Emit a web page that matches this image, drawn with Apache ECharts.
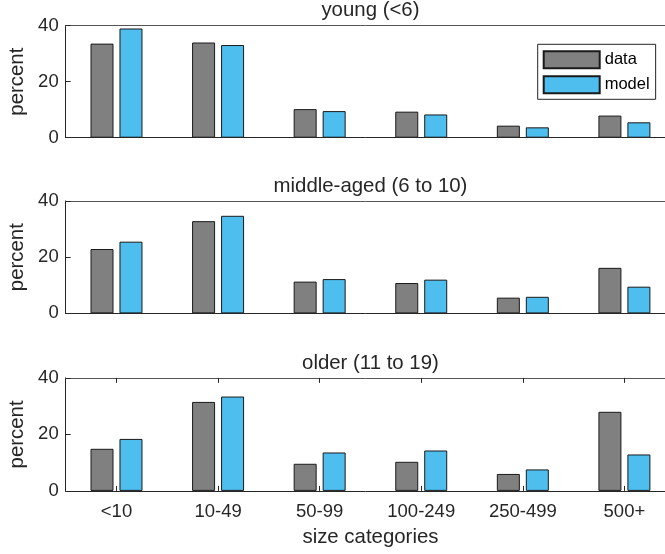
<!DOCTYPE html>
<html>
<head>
<meta charset="utf-8">
<script src="https://cdn.jsdelivr.net/npm/echarts@6/dist/echarts.min.js"></script>
<style>html,body{margin:0;padding:0;background:#fff;overflow:hidden;}#c{width:665px;height:554px;}</style>
</head>
<body>
<div id="c"></div>
<script>
const categories = ['<10', '10-49', '50-99', '100-249', '250-499', '500+'];
const panelTitles = ['young (<6)', 'middle-aged (6 to 10)', 'older (11 to 19)'];
const seriesNames = ['data', 'model'];
const youngData = [33.6, 34.0, 10.2, 9.3, 4.3, 7.9];
const youngModel = [39.0, 33.1, 9.5, 8.3, 3.7, 5.5];
const middleData = [22.9, 32.8, 11.3, 10.8, 5.6, 16.2];
const middleModel = [25.5, 34.7, 12.2, 12.0, 5.9, 9.5];
const olderData = [14.9, 31.5, 9.6, 10.3, 6.0, 28.0];
const olderModel = [18.4, 33.4, 13.6, 14.3, 7.6, 12.9];
const yMin = 0, yMax = 40, yStep = 20;
const yLabel = 'percent';
const xLabel = 'size categories';

const FONT = "'Liberation Sans', Arial, Helvetica, sans-serif";
const TXT = '#262626';
const AX = '#262626';
const panels = [[youngData, youngModel], [middleData, middleModel], [olderData, olderModel]];
const tops = [25.7, 200.9, 377.9];
const heights = [112, 112.5, 113];
const gridLeft = 65.7, gridWidth = 609.5;
const centerX = gridLeft + gridWidth / 2;

const grids = [], xAxes = [], yAxes = [], series = [], titles = [];
panels.forEach((p, i) => {
  grids.push({left: gridLeft, width: gridWidth, top: tops[i], height: heights[i],
    outerBoundsMode: 'none', show: false, containLabel: false});
  const last = i === panels.length - 1;
  const xIdx = xAxes.length;
  xAxes.push({type: 'category', gridIndex: i, data: categories, boundaryGap: true,
    axisLine: {show: true, onZero: false, lineStyle: {color: AX, width: 1}},
    axisTick: {show: last, inside: true, length: 5, alignWithLabel: true, lineStyle: {color: AX}},
    axisLabel: {show: last, color: TXT, fontSize: 18.5, fontFamily: FONT, margin: 12},
    name: last ? xLabel : '', nameLocation: 'middle', nameGap: 36,
    nameTextStyle: {color: TXT, fontSize: 20.4, fontFamily: FONT},
    splitLine: {show: false}, z: 5});
  xAxes.push({type: 'category', gridIndex: i, data: categories, position: 'top', boundaryGap: true,
    axisLine: {show: true, onZero: false, lineStyle: {color: '#555555', width: 1}},
    axisTick: {show: last, inside: true, length: 5, alignWithLabel: true, lineStyle: {color: AX}},
    axisLabel: {show: false}, splitLine: {show: false}, z: 5});
  yAxes.push({type: 'value', gridIndex: i, min: yMin, max: yMax, interval: yStep,
    axisLine: {show: true, onZero: false, lineStyle: {color: AX, width: 1}},
    axisTick: {show: true, inside: true, length: 5, lineStyle: {color: AX}},
    axisLabel: {color: TXT, fontSize: 18.5, fontFamily: FONT, margin: 7},
    splitLine: {show: false},
    name: yLabel, nameLocation: 'middle', nameGap: 33,
    nameTextStyle: {color: TXT, fontSize: 20.4, fontFamily: FONT}, z: 5});
  series.push({type: 'bar', name: seriesNames[0], xAxisIndex: xIdx, yAxisIndex: i, data: p[0],
    barWidth: 23, barGap: '26%',
    itemStyle: {color: '#808080', borderColor: '#1a1a1a', borderWidth: 1}, z: 2, animation: false});
  series.push({type: 'bar', name: seriesNames[1], xAxisIndex: xIdx, yAxisIndex: i, data: p[1],
    barWidth: 23, barGap: '26%',
    itemStyle: {color: '#4DBEEE', borderColor: '#1a1a1a', borderWidth: 1}, z: 2, animation: false});
  titles.push({text: panelTitles[i], left: centerX, top: tops[i] - 25, textAlign: 'center', padding: 0,
    textStyle: {color: TXT, fontSize: 20.4, fontWeight: 'normal', fontFamily: FONT}});
});

const chart = echarts.init(document.getElementById('c'), null, {renderer: 'canvas'});
chart.setOption({
  animation: false,
  backgroundColor: '#fff',
  title: titles,
  grid: grids,
  xAxis: xAxes,
  yAxis: yAxes,
  legend: {data: seriesNames, orient: 'vertical', left: 537.7, top: 44.3,
    padding: [6, 6, 5, 5], itemWidth: 56, itemHeight: 17, itemGap: 6,
    borderColor: '#262626', borderWidth: 1, backgroundColor: '#fff', borderRadius: 0,
    icon: 'rect', selectedMode: false,
    textStyle: {color: '#000', fontSize: 16.5, fontFamily: FONT}},
  series: series
});
</script>
</body>
</html>
